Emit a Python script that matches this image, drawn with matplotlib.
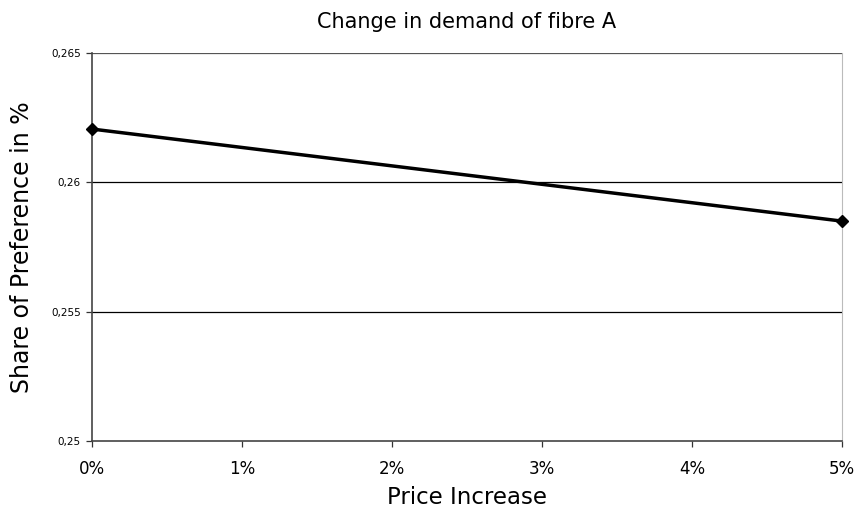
import matplotlib.pyplot as plt

# price increase steps and resulting preference share
price_pct = [0, 5]
share = [0.26206, 0.2585]
x_ticks = [0, 1, 2, 3, 4, 5]
x_labels = ['0%', '1%', '2%', '3%', '4%', '5%']
y_ticks = [0.25, 0.255, 0.26, 0.265]
y_labels = ['0,25', '0,255', '0,26', '0,265']

fig = plt.figure(figsize=(8.57, 5.14), dpi=100)
ax = fig.add_axes([92 / 857, 1 - 441 / 514, 750 / 857, 388 / 514])

for y in y_ticks[1:]:
    ax.axhline(y, color='#000000' if y < 0.265 else '#555555', lw=0.9, zorder=1)

ax.plot(price_pct, share, color='black', lw=2.5, marker='D', ms=6, zorder=3, clip_on=False)

ax.set_xlim(0, 5)
ax.set_ylim(0.25, 0.265)
ax.set_xticks(x_ticks)
ax.set_xticklabels(x_labels, fontsize=12)
ax.set_yticks(y_ticks)
ax.set_yticklabels(y_labels, fontsize=7.5)
ax.tick_params(axis='y', length=4, width=0.9, color='#333333', direction='out', pad=4)
ax.tick_params(axis='x', length=4, width=0.9, color='#333333', direction='out', pad=10)

ax.spines['top'].set_visible(False)
ax.spines['right'].set_color('#bbbbbb')
ax.spines['left'].set_color('#444444')
ax.spines['bottom'].set_color('#444444')
ax.spines['left'].set_linewidth(1.2)
ax.spines['bottom'].set_linewidth(1.2)

ax.set_title('Change in demand of fibre A', fontsize=15, pad=18)
ax.set_xlabel('Price Increase', fontsize=16.5, va='center')
ax.set_ylabel('Share of Preference in %', fontsize=17, va='center')
ax.xaxis.set_label_coords(0.5, -57 / 388)
ax.yaxis.set_label_coords(-70 / 750, 0.5)

fig.savefig('out.png', dpi=100)
